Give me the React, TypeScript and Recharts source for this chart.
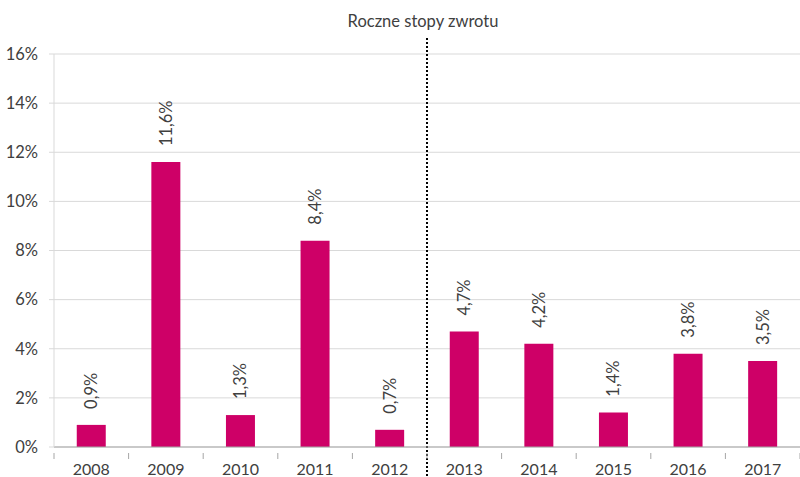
import React from 'react';
import { BarChart, Bar, XAxis, YAxis, CartesianGrid, ReferenceLine, LabelList } from 'recharts';

const years = ['2008', '2009', '2010', '2011', '2012', '2013', '2014', '2015', '2016', '2017'];
const returns = [0.9, 11.6, 1.3, 8.4, 0.7, 4.7, 4.2, 1.4, 3.8, 3.5];
const yTicks = [0, 2, 4, 6, 8, 10, 12, 14, 16];
const title = 'Roczne stopy zwrotu';
const splitYear = '2013';

const data = years.map((y, i) => ({ year: y, value: returns[i] }));

const FONT = 'Lato, "Open Sans", sans-serif';
const TEXT = '#404040';
const AXIS = '#a6a6a6';

const fmt = (v: number) => v.toFixed(1).replace('.', ',') + '%';

const ValueLabel = (props: any) => {
  const { x, y, width, value } = props;
  const cx = x + width / 2;
  const ty = y - 16;
  return (
    <text
      x={cx}
      y={ty}
      transform={`rotate(-90 ${cx} ${ty})`}
      textAnchor="start"
      dominantBaseline="central"
      fontSize={16.5}
      fontFamily={FONT}
      fill={TEXT}
    >
      {fmt(value)}
    </text>
  );
};

const XTick = (props: any) => {
  const { x, y, payload, index, width, visibleTicksCount } = props;
  const band = width / visibleTicksCount;
  const axisY = y - 8;
  return (
    <g>
      <line x1={x - band / 2} y1={axisY} x2={x - band / 2} y2={axisY + 6} stroke={AXIS} />
      {index === visibleTicksCount - 1 && (
        <line x1={x + band / 2} y1={axisY} x2={x + band / 2} y2={axisY + 6} stroke={AXIS} />
      )}
      <text x={x} y={y + 13.5} textAnchor="middle" fontSize={16} fontFamily={FONT} fill={TEXT}>
        {payload.value}
      </text>
    </g>
  );
};

const DottedLine = (p: any) => {
  const top = Math.min(p.y1, p.y2);
  const bottom = Math.max(p.y1, p.y2);
  return (
    <line x1={p.x1} y1={top - 16} x2={p.x2} y2={bottom + 32} stroke="#000" strokeWidth={2} strokeDasharray="2 2" />
  );
};

export default function App() {
  return (
    <div style={{ position: 'absolute', left: 0, top: 0, width: 800, height: 477, background: '#fff' }}>
      <div
        style={{
          position: 'absolute',
          left: 273,
          width: 300,
          top: 11,
          textAlign: 'center',
          fontFamily: FONT,
          fontSize: 16.5,
          color: TEXT,
        }}
      >
        {title}
      </div>
      <BarChart width={800} height={477} data={data} margin={{ top: 54, right: 0, bottom: 0, left: 0 }} barCategoryGap="30.5%">
        <CartesianGrid vertical={false} stroke="#d9d9d9" />
        <XAxis
          dataKey="year"
          height={30}
          axisLine={{ stroke: AXIS }}
          tickLine={false}
          tickMargin={8}
          tick={<XTick />}
          interval={0}
        />
        <YAxis
          width={54}
          domain={[0, 16]}
          ticks={yTicks}
          axisLine={{ stroke: '#d9d9d9' }}
          tickLine={{ stroke: '#d9d9d9' }}
          tickSize={5}
          tickMargin={11}
          tickFormatter={(v: number) => `${v}%`}
          tick={{ fontSize: 16.5, fontFamily: FONT, fill: TEXT }}
        />
        <Bar dataKey="value" fill="#CE0067" isAnimationActive={false}>
          <LabelList dataKey="value" content={ValueLabel} />
        </Bar>
        <ReferenceLine x={splitYear} position="start" ifOverflow="visible" shape={DottedLine} />
      </BarChart>
    </div>
  );
}
